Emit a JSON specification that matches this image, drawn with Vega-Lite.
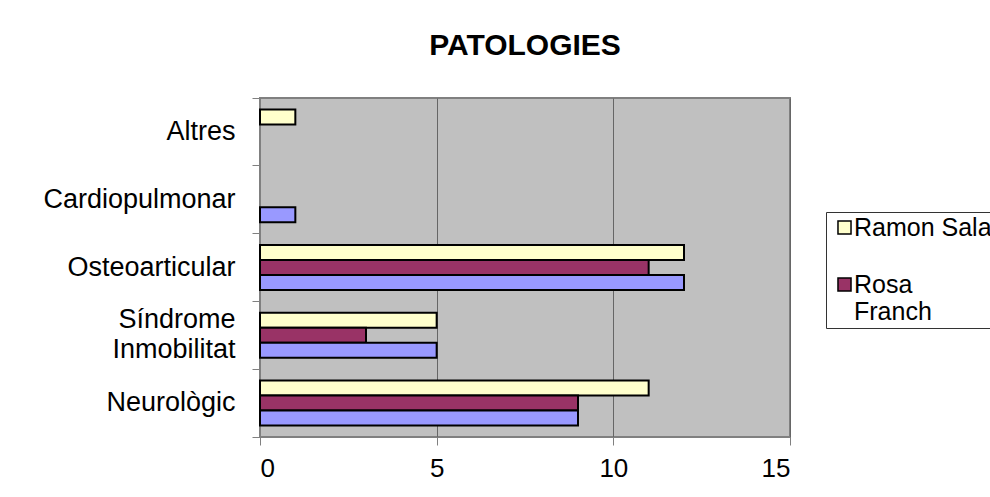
{
  "$schema": "https://vega.github.io/schema/vega-lite/v6.json",
  "width": 530,
  "height": 339,
  "autosize": "none",
  "padding": {"left": 260, "top": 98, "right": 200, "bottom": 60},
  "background": "white",
  "title": {
    "text": "PATOLOGIES",
    "anchor": "middle",
    "font": "Liberation Sans",
    "fontSize": 30,
    "fontWeight": "bold",
    "color": "black",
    "offset": 23
  },
  "data": {
    "values": [
      {"categoria": "Neurològic", "serie": "Ramon Sala", "valor": 11},
      {"categoria": "Neurològic", "serie": "Rosa Franch", "valor": 9},
      {"categoria": "Neurològic", "serie": "Sèrie 3", "valor": 9},
      {"categoria": "Síndrome Inmobilitat", "serie": "Ramon Sala", "valor": 5},
      {"categoria": "Síndrome Inmobilitat", "serie": "Rosa Franch", "valor": 3},
      {"categoria": "Síndrome Inmobilitat", "serie": "Sèrie 3", "valor": 5},
      {"categoria": "Osteoarticular", "serie": "Ramon Sala", "valor": 12},
      {"categoria": "Osteoarticular", "serie": "Rosa Franch", "valor": 11},
      {"categoria": "Osteoarticular", "serie": "Sèrie 3", "valor": 12},
      {"categoria": "Cardiopulmonar", "serie": "Ramon Sala", "valor": 0},
      {"categoria": "Cardiopulmonar", "serie": "Rosa Franch", "valor": 0},
      {"categoria": "Cardiopulmonar", "serie": "Sèrie 3", "valor": 1},
      {"categoria": "Altres", "serie": "Ramon Sala", "valor": 1},
      {"categoria": "Altres", "serie": "Rosa Franch", "valor": 0},
      {"categoria": "Altres", "serie": "Sèrie 3", "valor": 0}
    ]
  },
  "transform": [{"filter": "datum.valor > 0"}],
  "mark": {"type": "bar", "stroke": "black", "strokeWidth": 2},
  "encoding": {
    "y": {
      "field": "categoria",
      "type": "nominal",
      "sort": ["Altres", "Cardiopulmonar", "Osteoarticular", "Síndrome Inmobilitat", "Neurològic"],
      "scale": {"domain": ["Altres", "Cardiopulmonar", "Osteoarticular", "Síndrome Inmobilitat", "Neurològic"], "paddingInner": 0, "paddingOuter": 0},
      "axis": {
        "title": null,
        "labelFont": "Liberation Sans",
        "labelFontSize": 27,
        "labelColor": "black",
        "labelPadding": 17,
        "labelLineHeight": 30,
        "labelOffset": {"condition": {"test": "datum.value == 'Síndrome Inmobilitat'", "value": -15}, "value": 0},
        "tickSize": 8,
        "tickColor": "#808080",
        "domainColor": "#808080",
        "bandPosition": 1,
        "tickExtra": true,
        "grid": false,
        "labelLimit": 300,
        "labelExpr": "datum.value == 'Síndrome Inmobilitat' ? ['Síndrome', 'Inmobilitat'] : datum.label"
      }
    },
    "yOffset": {
      "field": "serie",
      "type": "nominal",
      "scale": {"domain": ["Ramon Sala", "Rosa Franch", "Sèrie 3"], "paddingInner": 0, "paddingOuter": 0.76}
    },
    "x": {
      "field": "valor",
      "type": "quantitative",
      "scale": {"domain": [0, 15], "nice": false},
      "axis": {
        "title": null,
        "values": [0, 5, 10, 15],
        "labelFont": "Liberation Sans",
        "labelFontSize": 26,
        "labelColor": "black",
        "labelPadding": 10,
        "tickSize": 8,
        "tickColor": "#808080",
        "domainColor": "#808080",
        "grid": true,
        "gridColor": "#666666",
        "gridWidth": 1
      }
    },
    "color": {
      "field": "serie",
      "type": "nominal",
      "scale": {"domain": ["Ramon Sala", "Rosa Franch", "Sèrie 3"], "range": ["#FFFFCC", "#993366", "#9999FF"]},
      "legend": {
        "title": null,
        "values": ["Ramon Sala", "Rosa Franch"],
        "orient": "none",
        "legendX": 566,
        "legendY": 114,
        "padding": 3,
        "strokeColor": "#333333",
        "fillColor": "white",
        "symbolType": "square",
        "symbolSize": 170,
        "symbolOffset": 3,
        "symbolStrokeColor": "black",
        "symbolStrokeWidth": 1.5,
        "symbolOpacity": 1,
        "labelFont": "Liberation Sans",
        "labelFontSize": 25,
        "labelColor": "black",
        "labelOffset": -3,
        "labelLimit": 300,
        "rowPadding": 31,
        "labelExpr": "datum.label == 'Rosa Franch' ? ['Rosa', 'Franch'] : datum.label"
      }
    }
  },
  "config": {
    "view": {"fill": "#C0C0C0", "stroke": "#808080", "strokeWidth": 2}
  }
}
